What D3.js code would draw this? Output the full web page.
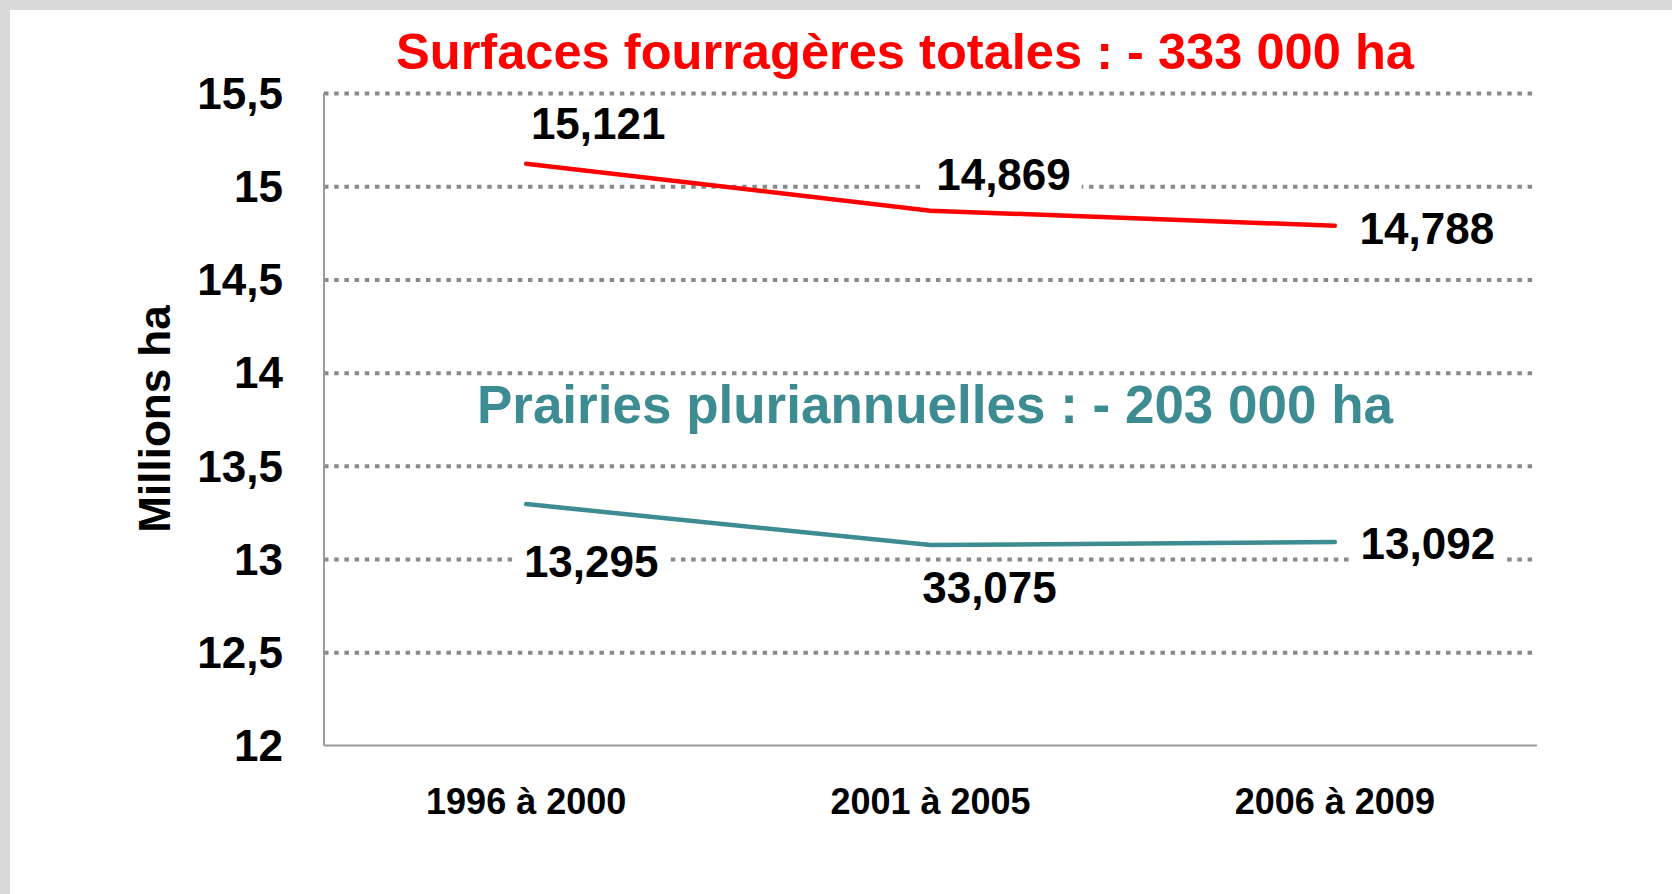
<!DOCTYPE html>
<html>
<head>
<meta charset="utf-8">
<script src="https://cdn.jsdelivr.net/npm/d3@7"></script>
<style>
  html, body { margin: 0; padding: 0; background: #fff; }
  svg text { font-family: "Liberation Sans", Arial, Helvetica, sans-serif; font-weight: bold; }
</style>
</head>
<body>
<svg width="1672" height="894"></svg>
<script>
var periods = ["1996 à 2000", "2001 à 2005", "2006 à 2009"];
var fourrageres = [15.121, 14.869, 14.788];
var prairies = [13.295, 13.075, 13.092];
// labels as printed on the original (the middle teal one reads 33,075)
var fourLabels = ["15,121", "14,869", "14,788"];
var prairLabels = ["13,295", "33,075", "13,092"];
var yTicks = [12, 12.5, 13, 13.5, 14, 14.5, 15, 15.5];

var svg = d3.select("svg"),
    width = +svg.attr("width"),
    height = +svg.attr("height");

// grey frame on top and left
svg.append("rect").attr("width", width).attr("height", height).attr("fill", "#d9d9d9");
svg.append("rect").attr("x", 10).attr("y", 10).attr("width", width - 10).attr("height", height - 10).attr("fill", "#fff");

var plotLeft = 324, plotRight = 1537, plotTop = 93, plotBottom = 745.5;

var x = d3.scalePoint()
    .domain(periods)
    .range([plotLeft, plotRight])
    .padding(0.5);

var y = d3.scaleLinear()
    .domain([12, 15.5])
    .range([plotBottom, plotTop]);

var fmt = function(d) { return String(d).replace(".", ","); };

// dotted grid
var grid = svg.append("g")
    .attr("transform", "translate(" + plotLeft + ",0)")
    .call(d3.axisLeft(y).tickValues(yTicks.slice(1)).tickSize(-(plotRight - plotLeft)).tickFormat(""));
grid.select(".domain").remove();
grid.selectAll(".tick line")
    .attr("stroke", "#898989")
    .attr("stroke-width", 4)
    .attr("stroke-dasharray", "4.5 5.7");

// tick labels
svg.append("g").selectAll("text")
    .data(yTicks)
    .enter().append("text")
      .attr("x", plotLeft - 41)
      .attr("y", function(d) { return y(d); })
      .attr("dy", "0.36em")
      .attr("text-anchor", "end")
      .style("font-size", "44px")
      .attr("fill", "#000")
      .text(fmt);

// axes lines
svg.append("line")
    .attr("x1", plotLeft).attr("x2", plotLeft).attr("y1", plotTop).attr("y2", plotBottom)
    .attr("stroke", "#9a9a9a").attr("stroke-width", 2);
svg.append("line")
    .attr("x1", plotLeft).attr("x2", plotRight).attr("y1", plotBottom).attr("y2", plotBottom)
    .attr("stroke", "#9a9a9a").attr("stroke-width", 2);

// category labels
svg.append("g").selectAll("text")
    .data(periods)
    .enter().append("text")
      .attr("x", function(d) { return x(d); })
      .attr("y", 814)
      .attr("text-anchor", "middle")
      .style("font-size", "36px")
      .attr("fill", "#000")
      .text(function(d) { return d; });

// y axis title
svg.append("text")
    .attr("transform", "translate(170,419) rotate(-90)")
    .attr("text-anchor", "middle")
    .style("font-size", "44px")
    .attr("fill", "#000")
    .text("Millions ha");

var line = d3.line()
    .x(function(d, i) { return x(periods[i]); })
    .y(function(d) { return y(d); });

svg.append("path")
    .datum(fourrageres)
    .attr("d", line)
    .attr("fill", "none")
    .attr("stroke", "#ff0000")
    .attr("stroke-width", 4.5)
    .attr("stroke-linecap", "round");

svg.append("path")
    .datum(prairies)
    .attr("d", line)
    .attr("fill", "none")
    .attr("stroke", "#3c8c91")
    .attr("stroke-width", 4.5)
    .attr("stroke-linecap", "round");

// data labels, offset from their point, on a white box
function drawLabels(values, texts, offsets) {
  var g = svg.append("g");
  values.forEach(function(v, i) {
    var lx = x(periods[i]) + offsets[i][0],
        ly = y(v) + offsets[i][1];
    var bg = g.append("rect").attr("fill", "#fff");
    var t = g.append("text")
        .attr("x", lx)
        .attr("y", ly)
        .attr("text-anchor", "middle")
        .style("font-size", "44px")
        .attr("fill", "#000")
        .text(texts[i]);
    var b = t.node().getBBox();
    bg.attr("x", b.x - 11).attr("y", b.y + 2).attr("width", b.width + 22).attr("height", b.height - 4);
  });
}
drawLabels(fourrageres, fourLabels, [[72, -25], [73, -21], [92, 18]]);
drawLabels(prairies, prairLabels, [[65, 73], [59, 58], [93, 17]]);

// headings
svg.append("text")
    .attr("x", 905)
    .attr("y", 68.5)
    .attr("text-anchor", "middle")
    .style("font-size", "50.6px")
    .attr("fill", "#ff0000")
    .text("Surfaces fourragères totales : - 333 000 ha");

svg.append("text")
    .attr("x", 935)
    .attr("y", 423)
    .attr("text-anchor", "middle")
    .style("font-size", "53px")
    .attr("fill", "#3c8c91")
    .text("Prairies pluriannuelles : - 203 000 ha");
</script>
</body>
</html>
